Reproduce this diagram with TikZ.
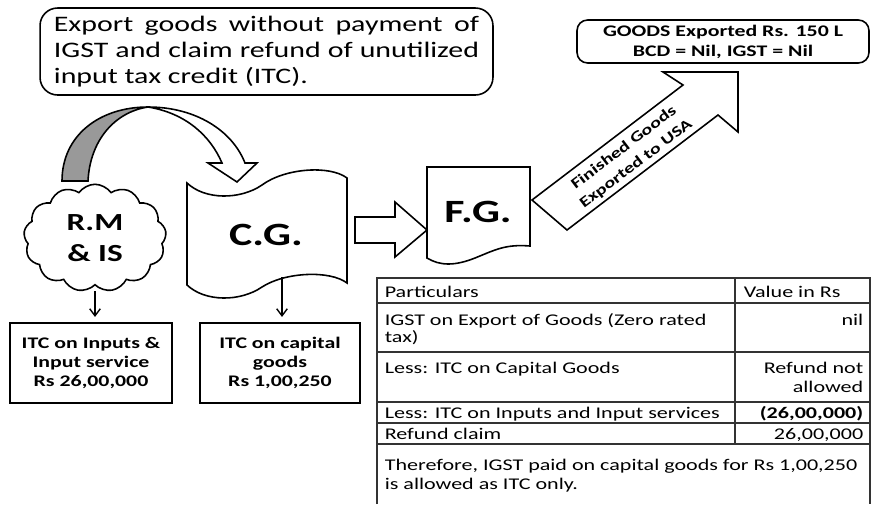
\documentclass[tikz,border=0pt]{standalone}
\usepackage{fontspec}
\setmainfont{Carlito}[FakeStretch=1.35]
\usetikzlibrary{shapes.symbols,arrows.meta}
\begin{document}
\begin{tikzpicture}[x=0.02cm,y=-0.02cm,line width=0.9pt,
  itcbox/.style={draw,line width=0.9pt,minimum height=1.6cm,align=center,inner sep=1pt,
    font=\fontsize{9.2}{11}\selectfont\bfseries},
  bigtxt/.style={font=\fontsize{18.5}{20}\selectfont\bfseries,inner sep=0pt},
  arr/.style={-{Straight Barb[length=4pt,width=6pt]},line width=0.8pt},
  tgrid/.style={line width=0.6pt,draw=black!80},
  tl/.style={anchor=base west,inner sep=0pt,font=\fontsize{9.3}{10.5}\selectfont},
  tr/.style={anchor=base east,inner sep=0pt,font=\fontsize{9.3}{10.5}\selectfont}]
\useasboundingbox (0,0) rectangle (878,504);

% intro box
\node[draw,rounded corners=10pt,minimum width=9.06cm,minimum height=1.74cm,inner sep=0pt,
  align=left,font=\fontsize{12.6}{14.7}\selectfont] (intro) at (266.5,51.5)
  {\makebox[242pt][s]{Export goods without payment of}\\
   \makebox[242pt][s]{IGST and claim refund of unutilized}\\
   input tax credit (ITC).};

% curved arrow
\fill[black!40] (62,181) .. controls (62,135) and (100,107) .. (148,107)
  .. controls (115,112) and (90,140) .. (88,181) -- cycle;
\draw (62,181) .. controls (62,135) and (100,107) .. (148,107)
  .. controls (115,112) and (90,140) .. (88,181) -- cycle;
\draw[fill=white] (148,107) .. controls (195,107) and (232,130) .. (245,163)
  -- (257,163) -- (237,182) -- (208,163) -- (222,163)
  .. controls (210,135) and (185,113) .. (148,107) -- cycle;

% cloud
\node[cloud,draw,cloud puffs=13,cloud puff arc=110,aspect=1.3,minimum width=2.85cm,
  minimum height=2.15cm,inner sep=0pt,align=center,
  font=\fontsize{14}{18}\selectfont\bfseries] (rm) at (95,238) {R.M\\\& IS};

% C.G. shape
\draw (187,183) .. controls (205,200) and (240,200) .. (262,185)
  .. controls (285,168) and (330,165) .. (347,178) -- (347,283)
  .. controls (330,270) and (285,272) .. (262,287)
  .. controls (240,302) and (205,302) .. (187,285) -- cycle;
\node[bigtxt] (cg) at (266,235) {C.G.};

% block arrow to F.G.
\draw (355,217) -- (395,217) -- (395,202) -- (427,230) -- (395,257) -- (395,243) -- (355,243) -- cycle;

% F.G. shape
\draw (427,167) -- (530,167) -- (530,246) .. controls (505,244) and (495,250) .. (475,258)
  .. controls (455,266) and (440,266) .. (427,258) -- cycle;
\node[bigtxt] (fg) at (478,212) {F.G.};

% export arrow
\draw (532,200) -- (683,85) -- (663,72) -- (738,72) -- (738,132) -- (718,115) -- (567,230) -- cycle;
\node[rotate=37.3,align=center,inner sep=0pt,font=\fontsize{8.5}{11.5}\selectfont\bfseries]
  (exptxt) at (630,156) {Finished Goods\\Exported to USA};

% goods box
\node[draw,rounded corners=6pt,minimum width=5.84cm,minimum height=0.86cm,inner sep=0pt,
  align=center,font=\fontsize{9.2}{11.3}\selectfont\bfseries] (goods) at (723,41.5)
  {GOODS Exported Rs. 150 L\\BCD = Nil, IGST = Nil};

% ITC boxes
\node[itcbox,minimum width=3.24cm] (itc1) at (91,363) {ITC on Inputs \&\\Input service\\Rs 26,00,000};
\node[itcbox,minimum width=3.2cm] (itc2) at (280,363) {ITC on capital\\goods\\Rs 1,00,250};

\draw[arr,shorten <=3pt,shorten >=3pt] (rm.south) -- (rm.south |- itc1.north);
\coordinate (cgb) at (282,277);
\draw[arr,shorten >=3pt] (cgb) -- (cgb |- itc2.north);

% table
\draw[tgrid] (377,504) -- (377,278) -- (870,278) -- (870,504);
\foreach \yy in {303,352,402,423,444} \draw[tgrid] (377,\yy) -- (870,\yy);
\draw[tgrid] (735,278) -- (735,444);

\node[tl] (p1) at (384,297) {Particulars};
\node[tl] (v1) at (743,297) {Value in Rs};
\node[tl] (p2a) at (384,325) {IGST on Export of Goods (Zero rated};
\node[tl] (p2b) at (384,342) {tax)};
\node[tr] (v2) at (864,325) {nil};
\node[tl] (p3) at (384,373) {Less: ITC on Capital Goods};
\node[tr] (v3a) at (864,373) {Refund not};
\node[tr] (v3b) at (864,392) {allowed};
\node[tl] (p4) at (384,418) {Less: ITC on Inputs and Input services};
\node[tr,font=\fontsize{9.3}{10.5}\selectfont\bfseries] (v4) at (864,418) {(26,00,000)};
\node[tl] (p5) at (384,439) {Refund claim};
\node[tr] (v5) at (864,439) {26,00,000};
\node[tl] (p6a) at (384,470) {Therefore, IGST paid on capital goods for Rs 1,00,250};
\node[tl] (p6b) at (384,489) {is allowed as ITC only.};
\end{tikzpicture}
\end{document}
